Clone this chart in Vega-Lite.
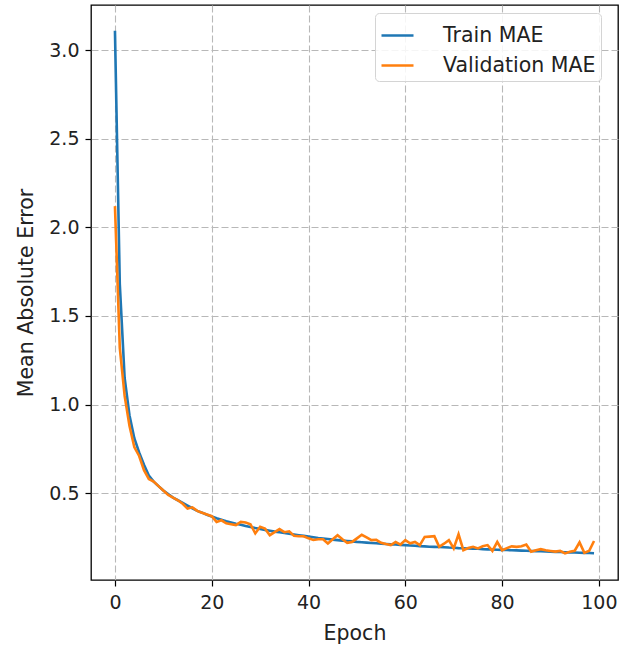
{
  "$schema": "https://vega.github.io/schema/vega-lite/v6.json",
  "width": 527,
  "height": 575,
  "autosize": {"type": "none"},
  "padding": {"left": 91, "top": 5, "right": 12, "bottom": 72},
  "background": "white",
  "config": {
    "font": "DejaVu Sans",
    "view": {"stroke": "#000000", "strokeWidth": 1.3},
    "axis": {
      "domain": false,
      "tickColor": "#000000",
      "tickSize": 6,
      "tickWidth": 1.2,
      "labelFont": "DejaVu Sans",
      "labelFontSize": 19,
      "labelColor": "#222222",
      "titleFont": "DejaVu Sans",
      "titleFontSize": 20.5,
      "titleFontWeight": "normal",
      "titleColor": "#222222",
      "grid": true,
      "gridColor": "#b8b8b8",
      "gridDash": [7, 3],
      "gridWidth": 1.1
    }
  },
  "data": {
    "values": [
      {"epoch": 0, "Train MAE": 3.11, "Validation MAE": 2.12},
      {"epoch": 1, "Train MAE": 1.68, "Validation MAE": 1.32},
      {"epoch": 2, "Train MAE": 1.15, "Validation MAE": 1.05},
      {"epoch": 3, "Train MAE": 0.94, "Validation MAE": 0.88},
      {"epoch": 4, "Train MAE": 0.81, "Validation MAE": 0.76},
      {"epoch": 5, "Train MAE": 0.73, "Validation MAE": 0.71},
      {"epoch": 6, "Train MAE": 0.66, "Validation MAE": 0.63},
      {"epoch": 7, "Train MAE": 0.6, "Validation MAE": 0.58},
      {"epoch": 8, "Train MAE": 0.565, "Validation MAE": 0.565},
      {"epoch": 9, "Train MAE": 0.54, "Validation MAE": 0.54},
      {"epoch": 10, "Train MAE": 0.515, "Validation MAE": 0.515},
      {"epoch": 11, "Train MAE": 0.495, "Validation MAE": 0.49},
      {"epoch": 12, "Train MAE": 0.475, "Validation MAE": 0.475},
      {"epoch": 13, "Train MAE": 0.46, "Validation MAE": 0.46},
      {"epoch": 14, "Train MAE": 0.445, "Validation MAE": 0.44},
      {"epoch": 15, "Train MAE": 0.43, "Validation MAE": 0.413},
      {"epoch": 16, "Train MAE": 0.415, "Validation MAE": 0.42},
      {"epoch": 17, "Train MAE": 0.4, "Validation MAE": 0.4},
      {"epoch": 18, "Train MAE": 0.39, "Validation MAE": 0.39},
      {"epoch": 19, "Train MAE": 0.378, "Validation MAE": 0.38},
      {"epoch": 20, "Train MAE": 0.368, "Validation MAE": 0.37},
      {"epoch": 21, "Train MAE": 0.358, "Validation MAE": 0.338},
      {"epoch": 22, "Train MAE": 0.35, "Validation MAE": 0.347},
      {"epoch": 23, "Train MAE": 0.342, "Validation MAE": 0.33},
      {"epoch": 24, "Train MAE": 0.335, "Validation MAE": 0.325},
      {"epoch": 25, "Train MAE": 0.328, "Validation MAE": 0.32},
      {"epoch": 26, "Train MAE": 0.322, "Validation MAE": 0.338},
      {"epoch": 27, "Train MAE": 0.315, "Validation MAE": 0.335},
      {"epoch": 28, "Train MAE": 0.309, "Validation MAE": 0.325},
      {"epoch": 29, "Train MAE": 0.303, "Validation MAE": 0.273},
      {"epoch": 30, "Train MAE": 0.298, "Validation MAE": 0.31},
      {"epoch": 31, "Train MAE": 0.293, "Validation MAE": 0.3},
      {"epoch": 32, "Train MAE": 0.288, "Validation MAE": 0.263},
      {"epoch": 33, "Train MAE": 0.283, "Validation MAE": 0.28},
      {"epoch": 34, "Train MAE": 0.279, "Validation MAE": 0.297},
      {"epoch": 35, "Train MAE": 0.275, "Validation MAE": 0.28},
      {"epoch": 36, "Train MAE": 0.271, "Validation MAE": 0.285},
      {"epoch": 37, "Train MAE": 0.267, "Validation MAE": 0.26},
      {"epoch": 38, "Train MAE": 0.263, "Validation MAE": 0.257},
      {"epoch": 39, "Train MAE": 0.259, "Validation MAE": 0.257},
      {"epoch": 40, "Train MAE": 0.255, "Validation MAE": 0.245},
      {"epoch": 41, "Train MAE": 0.251, "Validation MAE": 0.236},
      {"epoch": 42, "Train MAE": 0.247, "Validation MAE": 0.24},
      {"epoch": 43, "Train MAE": 0.244, "Validation MAE": 0.24},
      {"epoch": 44, "Train MAE": 0.241, "Validation MAE": 0.216},
      {"epoch": 45, "Train MAE": 0.238, "Validation MAE": 0.24},
      {"epoch": 46, "Train MAE": 0.235, "Validation MAE": 0.263},
      {"epoch": 47, "Train MAE": 0.232, "Validation MAE": 0.24},
      {"epoch": 48, "Train MAE": 0.23, "Validation MAE": 0.22},
      {"epoch": 49, "Train MAE": 0.228, "Validation MAE": 0.225},
      {"epoch": 50, "Train MAE": 0.225, "Validation MAE": 0.245},
      {"epoch": 51, "Train MAE": 0.223, "Validation MAE": 0.265},
      {"epoch": 52, "Train MAE": 0.221, "Validation MAE": 0.25},
      {"epoch": 53, "Train MAE": 0.219, "Validation MAE": 0.235},
      {"epoch": 54, "Train MAE": 0.217, "Validation MAE": 0.237},
      {"epoch": 55, "Train MAE": 0.215, "Validation MAE": 0.22},
      {"epoch": 56, "Train MAE": 0.213, "Validation MAE": 0.213},
      {"epoch": 57, "Train MAE": 0.211, "Validation MAE": 0.207},
      {"epoch": 58, "Train MAE": 0.21, "Validation MAE": 0.225},
      {"epoch": 59, "Train MAE": 0.208, "Validation MAE": 0.21},
      {"epoch": 60, "Train MAE": 0.207, "Validation MAE": 0.235},
      {"epoch": 61, "Train MAE": 0.205, "Validation MAE": 0.217},
      {"epoch": 62, "Train MAE": 0.203, "Validation MAE": 0.225},
      {"epoch": 63, "Train MAE": 0.201, "Validation MAE": 0.207},
      {"epoch": 64, "Train MAE": 0.2, "Validation MAE": 0.253},
      {"epoch": 65, "Train MAE": 0.198, "Validation MAE": 0.255},
      {"epoch": 66, "Train MAE": 0.197, "Validation MAE": 0.257},
      {"epoch": 67, "Train MAE": 0.196, "Validation MAE": 0.197},
      {"epoch": 68, "Train MAE": 0.195, "Validation MAE": 0.215},
      {"epoch": 69, "Train MAE": 0.193, "Validation MAE": 0.235},
      {"epoch": 70, "Train MAE": 0.192, "Validation MAE": 0.188},
      {"epoch": 71, "Train MAE": 0.19, "Validation MAE": 0.268},
      {"epoch": 72, "Train MAE": 0.189, "Validation MAE": 0.178},
      {"epoch": 73, "Train MAE": 0.188, "Validation MAE": 0.19},
      {"epoch": 74, "Train MAE": 0.187, "Validation MAE": 0.197},
      {"epoch": 75, "Train MAE": 0.186, "Validation MAE": 0.188},
      {"epoch": 76, "Train MAE": 0.184, "Validation MAE": 0.2},
      {"epoch": 77, "Train MAE": 0.183, "Validation MAE": 0.207},
      {"epoch": 78, "Train MAE": 0.182, "Validation MAE": 0.174},
      {"epoch": 79, "Train MAE": 0.181, "Validation MAE": 0.225},
      {"epoch": 80, "Train MAE": 0.18, "Validation MAE": 0.178},
      {"epoch": 81, "Train MAE": 0.179, "Validation MAE": 0.19},
      {"epoch": 82, "Train MAE": 0.178, "Validation MAE": 0.2},
      {"epoch": 83, "Train MAE": 0.177, "Validation MAE": 0.197},
      {"epoch": 84, "Train MAE": 0.176, "Validation MAE": 0.2},
      {"epoch": 85, "Train MAE": 0.175, "Validation MAE": 0.21},
      {"epoch": 86, "Train MAE": 0.174, "Validation MAE": 0.169},
      {"epoch": 87, "Train MAE": 0.173, "Validation MAE": 0.178},
      {"epoch": 88, "Train MAE": 0.172, "Validation MAE": 0.184},
      {"epoch": 89, "Train MAE": 0.171, "Validation MAE": 0.178},
      {"epoch": 90, "Train MAE": 0.17, "Validation MAE": 0.174},
      {"epoch": 91, "Train MAE": 0.169, "Validation MAE": 0.17},
      {"epoch": 92, "Train MAE": 0.168, "Validation MAE": 0.174},
      {"epoch": 93, "Train MAE": 0.167, "Validation MAE": 0.16},
      {"epoch": 94, "Train MAE": 0.166, "Validation MAE": 0.169},
      {"epoch": 95, "Train MAE": 0.165, "Validation MAE": 0.175},
      {"epoch": 96, "Train MAE": 0.164, "Validation MAE": 0.222},
      {"epoch": 97, "Train MAE": 0.163, "Validation MAE": 0.163},
      {"epoch": 98, "Train MAE": 0.162, "Validation MAE": 0.175},
      {"epoch": 99, "Train MAE": 0.161, "Validation MAE": 0.23}
    ]
  },
  "transform": [{"fold": ["Train MAE", "Validation MAE"], "as": ["series", "mae"]}],
  "mark": {"type": "line", "strokeWidth": 2.6, "clip": true},
  "encoding": {
    "x": {
      "field": "epoch",
      "type": "quantitative",
      "scale": {"domain": [-4.95, 103.95], "nice": false, "zero": false},
      "axis": {"values": [0, 20, 40, 60, 80, 100], "title": "Epoch", "labelPadding": 7, "titlePadding": 11}
    },
    "y": {
      "field": "mae",
      "type": "quantitative",
      "scale": {"domain": [0.01, 3.255], "nice": false, "zero": false},
      "axis": {"values": [0.5, 1, 1.5, 2, 2.5, 3], "format": ".1f", "title": "Mean Absolute Error", "labelPadding": 6, "titlePadding": 12}
    },
    "color": {
      "field": "series",
      "type": "nominal",
      "scale": {"domain": ["Train MAE", "Validation MAE"], "range": ["#1f77b4", "#ff7f0e"]},
      "legend": {
        "title": null,
        "orient": "none",
        "legendX": 284,
        "legendY": 8,
        "symbolType": "stroke",
        "symbolSize": 1024,
        "symbolStrokeWidth": 2.6,
        "labelFontSize": 20.5,
        "labelFont": "DejaVu Sans",
        "labelColor": "#222222",
        "labelOffset": 28,
        "rowPadding": 2,
        "padding": 5,
        "strokeColor": "#d4d4d4",
        "fillColor": "rgba(255,255,255,0.85)",
        "cornerRadius": 4
      }
    }
  }
}
